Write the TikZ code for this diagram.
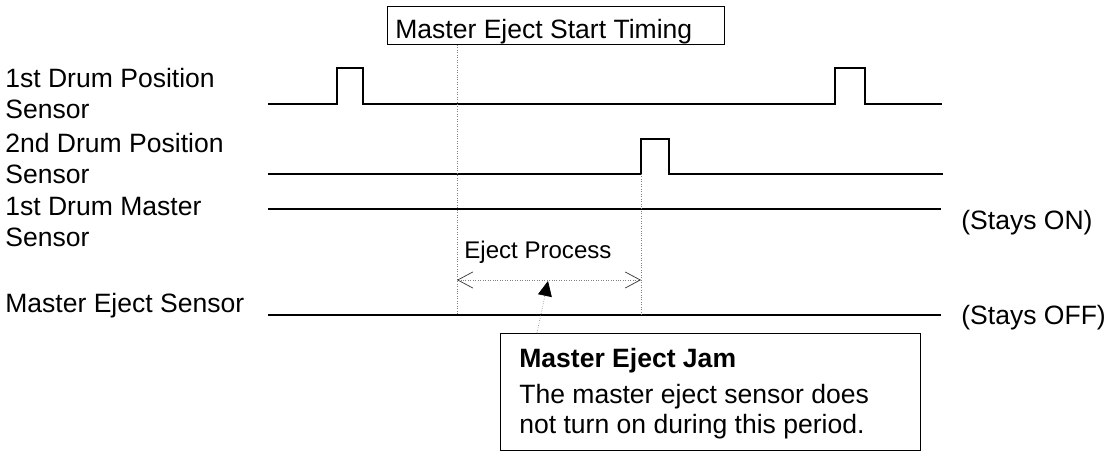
\documentclass[tikz,border=0pt]{standalone}
\usepackage{fontspec}
\setmainfont{Liberation Sans}
\usetikzlibrary{arrows.meta,calc}

\begin{document}
\begin{tikzpicture}[x=0.02cm,y=-0.02cm,
  wave/.style={line width=1.1pt},
  guide/.style={densely dotted,gray,line width=0.4pt},
  txt/.style={inner sep=0pt,font=\fontsize{15.1}{17.6}\selectfont},
  sensor/.style={txt,anchor=north west,align=left}]
  \useasboundingbox (0,0) rectangle (1111,452);
  % sensor names
  \node[sensor] (s1) at (5,68) {1st Drum Position\\Sensor};
  \node[sensor] (s2) at (5,133) {2nd Drum Position\\Sensor};
  \node[sensor] (s3) at (5,197) {1st Drum Master\\Sensor};
  \node[txt,anchor=base west] (s4) at (5,313) {Master Eject Sensor};
  % timing charts
  \draw[wave] (268,104) -- (337,104) |- (363,68) |- (835,104) |- (865,68) |- (942,104);
  \draw[wave] (268,174) -- (641,174) |- (669,139) |- (943,174);
  \draw[wave] (268,209) -- (941,209);
  \draw[wave] (268,315) -- (941,315);
  \node[txt,anchor=base west] (on) at (961,230) {(Stays ON)};
  \node[txt,anchor=base west] (off) at (961,324) {(Stays OFF)};
  % start timing
  \node[draw,line width=0.6pt,anchor=south west,minimum width=6.74cm,minimum height=0.76cm] (timing) at (387,45) {};
  \node[txt,anchor=base west] (timingtxt) at (395,39) {Master Eject Start Timing};
  \coordinate (start) at (457,315);
  \coordinate (stop) at (641,315);
  \draw[guide] (start |- timing.south) -- (start);
  \draw[guide] (641,174) -- (stop);
  % eject process
  \node[txt,anchor=base west,font=\fontsize{13.7}{16}\selectfont] (proc) at (464,259) {Eject Process};
  \coordinate (p0) at (457,280);
  \coordinate (p1) at (641,280);
  \draw[guide,{Straight Barb[length=3mm,width=3.2mm,color=black!80]}-{Straight Barb[length=3mm,width=3.2mm,color=black!80]}] (p0) -- (p1);
  % jam note
  \node[draw,line width=0.8pt,anchor=north west,minimum width=8.4cm,minimum height=2.34cm] (jam) at (500,333) {};
  \node[txt,anchor=base west,font=\fontsize{15.1}{17.6}\bfseries] (jamhead) at (519,367) {Master Eject Jam};
  \node[txt,anchor=base west] (jam1) at (519,403) {The master eject sensor does};
  \node[txt,anchor=base west] (jam2) at (519,433) {not turn on during this period.};
  \draw[guide,-{Triangle[length=3mm,width=2.8mm,color=black]}] ($(jam.north west)+(37,0)$) -- (548,281);
\end{tikzpicture}
\end{document}
